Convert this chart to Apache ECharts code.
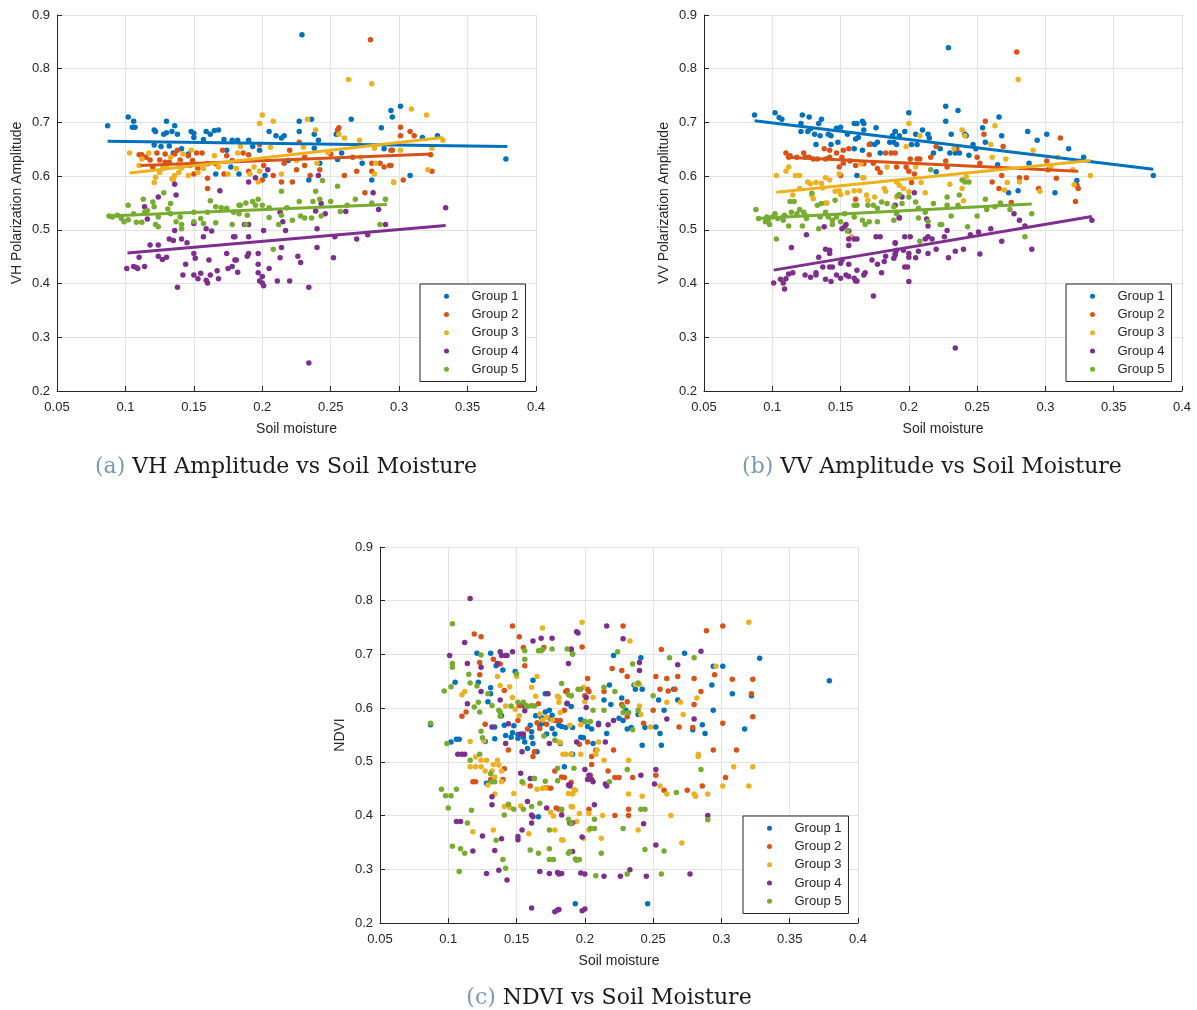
<!DOCTYPE html>
<html>
<head>
<meta charset="utf-8">
<script src="https://cdn.jsdelivr.net/npm/echarts@6/dist/echarts.min.js"></script>
<style>html,body{margin:0;padding:0;background:#fff}#chart{width:1197px;height:1010px}</style>
</head>
<body>
<div id="chart"></div>
<script>
const categories = ['Group 1', 'Group 2', 'Group 3', 'Group 4', 'Group 5'];
const xTicks = [0.05, 0.1, 0.15, 0.2, 0.25, 0.3, 0.35, 0.4];
const yTicks = [0.2, 0.3, 0.4, 0.5, 0.6, 0.7, 0.8, 0.9];
const captions = ['VH Amplitude vs Soil Moisture', 'VV Amplitude vs Soil Moisture', 'NDVI vs Soil Moisture'];
const yNames = ['VH Polarization Amplitude', 'VV Polarization Amplitude', 'NDVI'];

// ---- (a) VH amplitude ----
const vhG1 = [[0.087,0.694],[0.102,0.710],[0.106,0.702],[0.105,0.691],[0.107,0.691],[0.121,0.686],[0.122,0.683],[0.130,0.702],[0.136,0.694],[0.128,0.678],[0.130,0.681],[0.134,0.683],[0.138,0.678],[0.148,0.683],[0.150,0.680],[0.159,0.683],[0.162,0.678],[0.165,0.685],[0.168,0.686],[0.150,0.672],[0.157,0.668],[0.121,0.658],[0.126,0.655],[0.132,0.656],[0.135,0.643],[0.141,0.651],[0.146,0.641],[0.174,0.648],[0.172,0.668],[0.178,0.667],[0.166,0.604],[0.177,0.617],
[0.229,0.863],[0.182,0.667],[0.190,0.667],[0.193,0.655],[0.205,0.683],[0.210,0.675],[0.216,0.675],[0.214,0.671],[0.227,0.702],[0.227,0.683],[0.236,0.706],[0.238,0.678],[0.241,0.667],[0.238,0.652],[0.219,0.629],[0.265,0.706],[0.254,0.678],[0.255,0.631],[0.258,0.643],[0.273,0.624],[0.280,0.593],[0.234,0.593],[0.202,0.601],[0.183,0.604],[0.294,0.722],[0.295,0.710],[0.287,0.690],[0.289,0.651],[0.198,0.648],[0.242,0.624],
[0.301,0.730],[0.328,0.675],[0.378,0.632],[0.308,0.601],[0.317,0.672]];
const vhG2 = [[0.110,0.640],[0.112,0.640],[0.118,0.630],[0.123,0.643],[0.125,0.630],[0.129,0.626],[0.138,0.648],[0.146,0.638],[0.152,0.643],[0.156,0.643],[0.140,0.630],[0.149,0.629],[0.160,0.623],[0.166,0.623],[0.171,0.648],[0.174,0.638],[0.160,0.577],[0.153,0.614],[0.160,0.596],[0.178,0.629],[0.136,0.641],[0.147,0.620],[0.115,0.635],[0.129,0.641],[0.120,0.617],[0.150,0.604],[0.172,0.604],[0.132,0.626],
[0.279,0.854],[0.256,0.690],[0.255,0.686],[0.227,0.663],[0.198,0.659],[0.186,0.643],[0.190,0.640],[0.220,0.648],[0.231,0.635],[0.231,0.620],[0.225,0.612],[0.214,0.589],[0.222,0.589],[0.208,0.601],[0.200,0.593],[0.190,0.609],[0.201,0.620],[0.216,0.624],[0.235,0.601],[0.242,0.612],[0.250,0.641],[0.260,0.601],[0.266,0.635],[0.269,0.609],[0.275,0.569],[0.280,0.624],[0.280,0.609],[0.286,0.624],[0.289,0.617],[0.293,0.620],[0.294,0.648],
[0.301,0.691],[0.301,0.675],[0.308,0.683],[0.311,0.675],[0.323,0.640],[0.324,0.609],[0.303,0.593],[0.294,0.620],[0.295,0.648]];
const vhG3 = [[0.103,0.643],[0.110,0.620],[0.112,0.632],[0.117,0.643],[0.121,0.588],[0.133,0.635],[0.134,0.595],[0.135,0.593],[0.136,0.601],[0.139,0.607],[0.141,0.615],[0.146,0.601],[0.148,0.648],[0.153,0.607],[0.157,0.614],[0.165,0.638],[0.168,0.617],[0.175,0.604],[0.181,0.614],[0.182,0.643],[0.127,0.614],[0.125,0.607],[0.130,0.617],[0.139,0.623],[0.122,0.598],[0.142,0.641],
[0.200,0.714],[0.198,0.698],[0.208,0.702],[0.233,0.706],[0.239,0.686],[0.263,0.780],[0.280,0.772],[0.184,0.655],[0.191,0.604],[0.197,0.589],[0.198,0.609],[0.206,0.654],[0.214,0.604],[0.230,0.654],[0.240,0.624],[0.256,0.678],[0.260,0.671],[0.271,0.667],[0.272,0.635],[0.282,0.604],[0.283,0.624],[0.296,0.589],[0.282,0.652],[0.248,0.644],[0.225,0.629],[0.194,0.617],
[0.309,0.725],[0.320,0.714],[0.332,0.667],[0.324,0.652],[0.321,0.612],[0.296,0.588],[0.301,0.648]];
const vhG4 = [[0.101,0.428],[0.106,0.432],[0.108,0.430],[0.109,0.428],[0.114,0.432],[0.110,0.449],[0.118,0.472],[0.124,0.472],[0.124,0.451],[0.127,0.445],[0.130,0.449],[0.132,0.483],[0.135,0.480],[0.136,0.499],[0.137,0.565],[0.136,0.585],[0.124,0.561],[0.114,0.543],[0.116,0.520],[0.141,0.483],[0.145,0.476],[0.144,0.436],[0.150,0.456],[0.151,0.447],[0.142,0.416],[0.138,0.393],[0.150,0.416],[0.153,0.409],[0.155,0.419],[0.159,0.406],[0.160,0.401],[0.162,0.416],[0.168,0.409],[0.167,0.424],[0.161,0.444],[0.175,0.428],[0.178,0.432],[0.181,0.444],[0.182,0.421],[0.174,0.456],[0.179,0.487],[0.157,0.487],[0.159,0.502],[0.163,0.498],[0.150,0.512],[0.169,0.573],
[0.180,0.487],[0.180,0.444],[0.190,0.487],[0.189,0.451],[0.190,0.456],[0.197,0.456],[0.197,0.436],[0.197,0.420],[0.200,0.413],[0.198,0.405],[0.200,0.401],[0.201,0.396],[0.205,0.428],[0.211,0.405],[0.220,0.405],[0.201,0.499],[0.190,0.589],[0.195,0.597],[0.204,0.612],[0.214,0.467],[0.213,0.448],[0.215,0.515],[0.217,0.499],[0.226,0.451],[0.228,0.439],[0.234,0.393],[0.234,0.252],[0.240,0.502],[0.240,0.467],[0.241,0.601],[0.243,0.549],[0.246,0.530],[0.239,0.535],[0.252,0.448],[0.253,0.487],[0.261,0.534],[0.269,0.483],[0.277,0.491],[0.281,0.569],[0.285,0.538],[0.290,0.510],[0.190,0.510],[0.187,0.510],[0.213,0.533],
[0.334,0.541]];
const vhG5 = [[0.088,0.526],[0.0905,0.524],[0.094,0.527],[0.097,0.521],[0.099,0.515],[0.102,0.519],[0.102,0.546],[0.106,0.530],[0.108,0.514],[0.112,0.514],[0.113,0.557],[0.114,0.533],[0.116,0.536],[0.120,0.552],[0.121,0.543],[0.124,0.524],[0.122,0.510],[0.124,0.506],[0.128,0.569],[0.131,0.539],[0.133,0.549],[0.133,0.530],[0.137,0.515],[0.141,0.510],[0.141,0.502],[0.140,0.524],[0.150,0.515],[0.150,0.533],[0.155,0.521],[0.157,0.512],[0.160,0.533],[0.162,0.554],[0.166,0.513],[0.166,0.543],[0.170,0.541],[0.174,0.540],[0.178,0.510],[0.179,0.533],[0.183,0.546],
[0.184,0.546],[0.188,0.550],[0.193,0.553],[0.197,0.557],[0.195,0.546],[0.189,0.527],[0.188,0.510],[0.183,0.530],[0.200,0.546],[0.205,0.541],[0.205,0.523],[0.212,0.510],[0.214,0.527],[0.214,0.572],[0.218,0.541],[0.222,0.518],[0.227,0.553],[0.228,0.526],[0.231,0.522],[0.237,0.553],[0.236,0.522],[0.239,0.572],[0.242,0.557],[0.244,0.592],[0.208,0.464],[0.250,0.553],[0.255,0.581],[0.257,0.534],[0.262,0.546],[0.268,0.557],[0.280,0.550],[0.286,0.510],[0.290,0.557],[0.243,0.526]];
const vhFit1 = [[0.087,0.665],[0.379,0.655]];
const vhFit2 = [[0.111,0.620],[0.324,0.641]];
const vhFit3 = [[0.103,0.606],[0.332,0.672]];
const vhFit4 = [[0.1015,0.457],[0.334,0.508]];
const vhFit5 = [[0.087,0.526],[0.291,0.547]];

// ---- (b) VV amplitude ----
const vvG1 = [[0.087,0.714],[0.102,0.718],[0.105,0.709],[0.107,0.706],[0.122,0.714],[0.127,0.710],[0.136,0.706],[0.134,0.698],[0.121,0.698],[0.121,0.683],[0.128,0.688],[0.126,0.683],[0.131,0.678],[0.135,0.675],[0.141,0.678],[0.143,0.675],[0.147,0.689],[0.150,0.691],[0.160,0.698],[0.162,0.698],[0.166,0.702],[0.167,0.698],[0.167,0.686],[0.176,0.690],[0.155,0.678],[0.161,0.669],[0.163,0.672],[0.132,0.659],[0.143,0.659],[0.148,0.663],[0.160,0.651],[0.166,0.648],[0.172,0.660],[0.175,0.659],[0.177,0.663],[0.179,0.643],[0.186,0.663],[0.189,0.663],[0.190,0.683],[0.188,0.675],[0.162,0.601],[0.191,0.659],
[0.229,0.839],[0.190,0.683],[0.197,0.683],[0.193,0.675],[0.200,0.718],[0.205,0.678],[0.210,0.686],[0.214,0.678],[0.215,0.671],[0.202,0.659],[0.206,0.659],[0.227,0.730],[0.227,0.702],[0.236,0.722],[0.231,0.678],[0.241,0.678],[0.242,0.675],[0.247,0.659],[0.256,0.663],[0.254,0.690],[0.266,0.710],[0.268,0.675],[0.237,0.643],[0.244,0.639],[0.249,0.651],[0.234,0.643],[0.230,0.643],[0.223,0.651],[0.218,0.643],[0.220,0.608],[0.287,0.683],[0.294,0.667],[0.301,0.678],[0.288,0.624],[0.280,0.573],[0.273,0.569],[0.265,0.621],[0.307,0.569],
[0.317,0.651],[0.328,0.635],[0.323,0.592],[0.379,0.601]];
const vvG2 = [[0.110,0.643],[0.112,0.635],[0.113,0.638],[0.118,0.635],[0.123,0.643],[0.124,0.635],[0.127,0.635],[0.130,0.632],[0.133,0.632],[0.139,0.632],[0.138,0.651],[0.142,0.648],[0.147,0.643],[0.152,0.648],[0.156,0.651],[0.151,0.635],[0.152,0.624],[0.149,0.617],[0.157,0.628],[0.161,0.620],[0.161,0.557],[0.171,0.640],[0.171,0.659],[0.167,0.623],[0.174,0.624],[0.177,0.614],[0.183,0.643],[0.187,0.643],[0.190,0.643],[0.191,0.617],[0.179,0.607],[0.150,0.601],[0.142,0.635],
[0.201,0.632],[0.206,0.632],[0.208,0.632],[0.198,0.617],[0.200,0.609],[0.204,0.604],[0.202,0.588],[0.216,0.635],[0.220,0.655],[0.227,0.628],[0.228,0.617],[0.235,0.651],[0.250,0.635],[0.252,0.624],[0.256,0.702],[0.255,0.678],[0.261,0.589],[0.269,0.655],[0.268,0.601],[0.266,0.577],[0.279,0.831],[0.281,0.597],[0.286,0.597],[0.275,0.551],[0.295,0.577],[0.301,0.628],[0.302,0.612],
[0.311,0.671],[0.308,0.596],[0.323,0.583],[0.324,0.577],[0.322,0.553]];
const vvG3 = [[0.103,0.601],[0.110,0.609],[0.112,0.617],[0.117,0.601],[0.120,0.601],[0.115,0.565],[0.120,0.577],[0.126,0.589],[0.128,0.586],[0.129,0.565],[0.132,0.588],[0.136,0.587],[0.130,0.558],[0.139,0.597],[0.142,0.593],[0.139,0.550],[0.140,0.550],[0.146,0.572],[0.149,0.573],[0.155,0.569],[0.150,0.566],[0.160,0.573],[0.164,0.573],[0.166,0.597],[0.167,0.597],[0.169,0.565],[0.170,0.555],[0.175,0.561],[0.182,0.577],[0.183,0.572],[0.184,0.617],[0.191,0.561],[0.165,0.623],[0.149,0.604],[0.158,0.487],[0.137,0.578],
[0.200,0.698],[0.198,0.655],[0.208,0.675],[0.191,0.589],[0.193,0.583],[0.196,0.577],[0.200,0.571],[0.205,0.617],[0.209,0.588],[0.212,0.569],[0.230,0.585],[0.239,0.577],[0.239,0.686],[0.241,0.675],[0.233,0.651],[0.240,0.554],[0.242,0.599],[0.260,0.659],[0.261,0.635],[0.263,0.694],[0.271,0.632],[0.272,0.588],[0.270,0.574],[0.280,0.780],[0.281,0.589],[0.291,0.648],[0.296,0.572],[0.304,0.617],
[0.309,0.635],[0.320,0.612],[0.321,0.584],[0.333,0.601]];
const vvG4 = [[0.101,0.401],[0.106,0.408],[0.108,0.401],[0.109,0.390],[0.110,0.409],[0.112,0.418],[0.115,0.420],[0.114,0.467],[0.125,0.491],[0.124,0.416],[0.128,0.412],[0.132,0.416],[0.132,0.420],[0.134,0.449],[0.137,0.431],[0.139,0.464],[0.142,0.462],[0.142,0.456],[0.139,0.408],[0.143,0.404],[0.142,0.431],[0.144,0.431],[0.147,0.416],[0.150,0.438],[0.151,0.444],[0.150,0.410],[0.154,0.416],[0.156,0.413],[0.160,0.410],[0.161,0.405],[0.162,0.405],[0.162,0.425],[0.156,0.436],[0.151,0.502],[0.154,0.510],[0.156,0.498],[0.156,0.483],[0.160,0.483],[0.162,0.483],[0.156,0.471],[0.167,0.416],[0.168,0.420],[0.173,0.444],[0.174,0.377],[0.177,0.436],[0.176,0.487],[0.179,0.487],[0.180,0.420],[0.182,0.441],[0.183,0.451],[0.189,0.447],[0.190,0.456],[0.190,0.476],[0.193,0.523],[0.138,0.506],[0.153,0.506],
[0.190,0.546],[0.195,0.561],[0.204,0.569],[0.193,0.522],[0.190,0.475],[0.191,0.462],[0.190,0.453],[0.197,0.487],[0.201,0.487],[0.196,0.462],[0.200,0.456],[0.200,0.449],[0.205,0.448],[0.197,0.431],[0.199,0.431],[0.200,0.404],[0.207,0.460],[0.212,0.483],[0.214,0.487],[0.217,0.483],[0.214,0.456],[0.214,0.507],[0.220,0.464],[0.226,0.487],[0.228,0.499],[0.229,0.448],[0.234,0.460],[0.240,0.464],[0.245,0.491],[0.251,0.496],[0.252,0.455],[0.260,0.502],[0.268,0.479],[0.277,0.530],[0.281,0.518],[0.285,0.507],[0.290,0.464],[0.234,0.280],[0.213,0.520],
[0.334,0.518]];
const vvG5 = [[0.088,0.538],[0.090,0.521],[0.096,0.524],[0.097,0.518],[0.100,0.524],[0.102,0.530],[0.104,0.521],[0.108,0.524],[0.108,0.518],[0.109,0.527],[0.095,0.515],[0.098,0.510],[0.103,0.483],[0.112,0.507],[0.113,0.553],[0.116,0.553],[0.114,0.533],[0.118,0.530],[0.120,0.538],[0.123,0.533],[0.124,0.527],[0.125,0.521],[0.122,0.507],[0.129,0.568],[0.133,0.546],[0.136,0.549],[0.134,0.502],[0.135,0.524],[0.139,0.533],[0.141,0.524],[0.144,0.518],[0.147,0.524],[0.144,0.510],[0.150,0.515],[0.155,0.498],[0.153,0.530],[0.160,0.546],[0.162,0.546],[0.160,0.524],[0.166,0.518],[0.168,0.510],[0.171,0.515],[0.170,0.546],[0.174,0.546],[0.177,0.540],[0.177,0.515],[0.180,0.552],[0.184,0.549],[0.189,0.518],[0.191,0.530],[0.193,0.566],[0.189,0.543],[0.146,0.555],
[0.192,0.564],[0.195,0.549],[0.191,0.533],[0.200,0.561],[0.205,0.552],[0.207,0.522],[0.207,0.540],[0.212,0.533],[0.208,0.479],[0.214,0.516],[0.218,0.549],[0.223,0.510],[0.224,0.510],[0.228,0.546],[0.228,0.561],[0.231,0.526],[0.236,0.546],[0.237,0.565],[0.239,0.593],[0.241,0.589],[0.244,0.589],[0.243,0.506],[0.250,0.526],[0.256,0.557],[0.257,0.538],[0.263,0.543],[0.267,0.550],[0.274,0.538],[0.285,0.487],[0.290,0.530],[0.216,0.612]];
const vvFit1 = [[0.087,0.703],[0.379,0.613]];
const vvFit2 = [[0.110,0.635],[0.324,0.609]];
const vvFit3 = [[0.103,0.570],[0.333,0.629]];
const vvFit4 = [[0.101,0.425],[0.334,0.525]];
const vvFit5 = [[0.088,0.521],[0.290,0.548]];

// ---- (c) NDVI ----
const ndviG1 = [[0.087,0.569],[0.102,0.537],[0.106,0.542],[0.108,0.542],[0.105,0.648],[0.121,0.702],[0.122,0.648],[0.127,0.538],[0.128,0.460],[0.129,0.612],[0.131,0.627],[0.131,0.702],[0.131,0.638],[0.134,0.565],[0.134,0.543],[0.135,0.679],[0.140,0.671],[0.139,0.586],[0.141,0.568],[0.142,0.549],[0.146,0.546],[0.147,0.554],[0.148,0.567],[0.149,0.668],[0.151,0.544],[0.151,0.551],[0.155,0.546],[0.156,0.537],[0.158,0.525],[0.160,0.568],[0.161,0.546],[0.161,0.556],[0.162,0.652],[0.162,0.534],[0.164,0.586],[0.165,0.519],[0.166,0.398],[0.167,0.568],[0.168,0.583],[0.169,0.572],[0.171,0.627],[0.171,0.593],[0.172,0.552],[0.174,0.596],[0.175,0.580],[0.176,0.562],[0.176,0.587],[0.178,0.552],[0.179,0.577],[0.181,0.568],[0.182,0.534],[0.183,0.566],[0.185,0.491],[0.186,0.564],[0.187,0.608],[0.190,0.603],[0.190,0.514],
[0.191,0.564],[0.197,0.579],[0.197,0.546],[0.200,0.575],[0.202,0.566],[0.205,0.561],[0.206,0.534],[0.199,0.545],[0.191,0.514],[0.193,0.236],[0.216,0.553],[0.210,0.572],[0.214,0.615],[0.218,0.643],[0.219,0.607],[0.221,0.698],[0.225,0.581],[0.227,0.619],[0.228,0.577],[0.230,0.596],[0.231,0.561],[0.234,0.564],[0.236,0.643],[0.237,0.635],[0.239,0.588],[0.241,0.694],[0.242,0.635],[0.242,0.531],[0.244,0.564],[0.246,0.236],[0.252,0.565],[0.255,0.553],[0.256,0.531],[0.254,0.615],[0.258,0.596],[0.265,0.635],[0.268,0.615],[0.273,0.702],[0.279,0.560],[0.286,0.569],[0.288,0.553],
[0.293,0.643],[0.294,0.596],[0.294,0.678],[0.301,0.678],[0.308,0.627],[0.317,0.561],[0.322,0.623],[0.328,0.693],[0.379,0.651]];
const ndviG2 = [[0.119,0.738],[0.124,0.733],[0.123,0.685],[0.123,0.662],[0.113,0.593],[0.110,0.585],[0.118,0.463],[0.120,0.463],[0.127,0.570],[0.131,0.467],[0.133,0.691],[0.136,0.683],[0.138,0.682],[0.140,0.467],[0.141,0.487],[0.144,0.522],[0.147,0.753],[0.152,0.733],[0.152,0.605],[0.153,0.605],[0.151,0.577],[0.155,0.713],[0.156,0.679],[0.158,0.561],[0.162,0.510],[0.163,0.519],[0.160,0.455],[0.165,0.573],[0.166,0.608],[0.167,0.562],[0.170,0.713],[0.172,0.570],[0.172,0.452],[0.175,0.451],[0.178,0.577],[0.179,0.414],[0.178,0.483],[0.182,0.577],[0.185,0.596],[0.187,0.633],[0.190,0.623],[0.181,0.412],[0.183,0.472],[0.141,0.633],
[0.198,0.714],[0.228,0.753],[0.202,0.655],[0.202,0.635],[0.203,0.631],[0.186,0.631],[0.200,0.623],[0.214,0.631],[0.220,0.674],[0.227,0.670],[0.231,0.659],[0.227,0.607],[0.231,0.612],[0.231,0.584],[0.243,0.572],[0.221,0.522],[0.205,0.510],[0.208,0.522],[0.202,0.537],[0.196,0.533],[0.205,0.495],[0.204,0.475],[0.217,0.483],[0.222,0.471],[0.225,0.471],[0.235,0.471],[0.232,0.412],[0.232,0.400],[0.222,0.400],[0.203,0.412],[0.190,0.462],[0.185,0.471],[0.252,0.659],[0.256,0.709],[0.255,0.635],[0.260,0.655],[0.261,0.632],[0.266,0.635],[0.268,0.659],[0.250,0.596],[0.252,0.475],[0.258,0.447],[0.269,0.565],[0.275,0.447],[0.280,0.655],[0.280,0.607],[0.279,0.564],[0.285,0.631],[0.286,0.455],
[0.289,0.744],[0.301,0.753],[0.295,0.662],[0.308,0.654],[0.323,0.654],[0.322,0.627],[0.323,0.584],[0.301,0.572],[0.294,0.522],[0.311,0.522],[0.303,0.471]];
const ndviG3 = [[0.110,0.625],[0.112,0.631],[0.116,0.538],[0.116,0.491],[0.120,0.491],[0.120,0.509],[0.124,0.503],[0.124,0.491],[0.118,0.370],[0.126,0.539],[0.128,0.503],[0.129,0.457],[0.127,0.483],[0.132,0.483],[0.133,0.495],[0.136,0.503],[0.137,0.494],[0.134,0.472],[0.134,0.440],[0.133,0.373],[0.139,0.483],[0.139,0.463],[0.136,0.659],[0.138,0.642],[0.141,0.417],[0.142,0.604],[0.145,0.415],[0.145,0.640],[0.147,0.620],[0.148,0.441],[0.149,0.598],[0.150,0.659],[0.152,0.586],[0.153,0.418],[0.155,0.460],[0.159,0.366],[0.161,0.639],[0.164,0.622],[0.167,0.589],[0.169,0.578],[0.169,0.451],[0.171,0.452],[0.165,0.659],[0.169,0.749],[0.165,0.449],[0.172,0.583],[0.175,0.406],[0.176,0.578],[0.177,0.399],[0.178,0.373],[0.180,0.622],[0.181,0.611],[0.183,0.409],[0.183,0.355],[0.182,0.536],[0.184,0.514],[0.190,0.417],[0.189,0.568],[0.188,0.441],[0.192,0.448],
[0.198,0.760],[0.233,0.725],[0.181,0.620],[0.182,0.592],[0.181,0.537],[0.186,0.514],[0.197,0.514],[0.190,0.514],[0.197,0.569],[0.200,0.612],[0.199,0.639],[0.206,0.620],[0.208,0.514],[0.209,0.522],[0.210,0.537],[0.214,0.503],[0.193,0.447],[0.191,0.440],[0.191,0.416],[0.196,0.404],[0.194,0.389],[0.203,0.404],[0.203,0.373],[0.199,0.358],[0.184,0.354],[0.213,0.400],[0.212,0.358],[0.232,0.503],[0.232,0.440],[0.237,0.644],[0.240,0.644],[0.240,0.604],[0.241,0.588],[0.242,0.436],[0.239,0.373],[0.248,0.565],[0.255,0.455],[0.260,0.440],[0.260,0.611],[0.263,0.400],[0.270,0.611],[0.272,0.588],[0.271,0.349],[0.282,0.619],[0.283,0.514],[0.283,0.510],[0.280,0.440],[0.281,0.436],[0.290,0.440],
[0.320,0.760],[0.296,0.678],[0.309,0.491],[0.323,0.491],[0.301,0.455],[0.320,0.455]];
const ndviG4 = [[0.116,0.804],[0.101,0.698],[0.112,0.722],[0.114,0.683],[0.114,0.608],[0.107,0.514],[0.110,0.514],[0.112,0.514],[0.106,0.389],[0.109,0.389],[0.118,0.334],[0.125,0.362],[0.124,0.676],[0.124,0.631],[0.128,0.292],[0.132,0.435],[0.132,0.420],[0.132,0.565],[0.134,0.335],[0.136,0.683],[0.138,0.705],[0.139,0.698],[0.138,0.615],[0.139,0.357],[0.137,0.298],[0.142,0.698],[0.143,0.698],[0.142,0.534],[0.144,0.571],[0.143,0.280],[0.147,0.705],[0.151,0.355],[0.151,0.361],[0.153,0.552],[0.154,0.519],[0.154,0.373],[0.155,0.552],[0.156,0.604],[0.158,0.426],[0.160,0.469],[0.163,0.469],[0.161,0.386],[0.161,0.228],[0.161,0.401],[0.162,0.398],[0.162,0.725],[0.168,0.730],[0.167,0.296],[0.172,0.414],[0.173,0.627],[0.174,0.534],[0.174,0.292],[0.176,0.730],[0.180,0.294],[0.181,0.291],[0.178,0.221],[0.180,0.224],[0.181,0.225],[0.187,0.609],[0.188,0.683],[0.188,0.457],[0.189,0.458],[0.189,0.386],[0.191,0.386],[0.190,0.710],[0.194,0.742],[0.183,0.401],[0.156,0.595],[0.153,0.479],
[0.195,0.740],[0.190,0.709],[0.191,0.701],[0.201,0.620],[0.201,0.601],[0.210,0.569],[0.217,0.569],[0.215,0.537],[0.194,0.537],[0.216,0.753],[0.228,0.729],[0.240,0.685],[0.240,0.670],[0.221,0.577],[0.200,0.486],[0.203,0.475],[0.205,0.467],[0.206,0.463],[0.202,0.467],[0.215,0.459],[0.216,0.455],[0.189,0.455],[0.207,0.420],[0.198,0.360],[0.191,0.333],[0.183,0.292],[0.197,0.293],[0.200,0.291],[0.214,0.287],[0.226,0.287],[0.233,0.299],[0.245,0.287],[0.198,0.223],[0.200,0.226],[0.241,0.475],[0.243,0.385],[0.252,0.486],[0.251,0.459],[0.252,0.345],[0.260,0.580],[0.268,0.681],[0.280,0.580],[0.285,0.706],[0.277,0.291],[0.290,0.400]];
const ndviG5 = [[0.087,0.572],[0.095,0.449],[0.098,0.437],[0.097,0.632],[0.099,0.534],[0.100,0.414],[0.102,0.437],[0.103,0.343],[0.103,0.676],[0.103,0.683],[0.103,0.757],[0.102,0.640],[0.106,0.449],[0.108,0.296],[0.109,0.338],[0.112,0.330],[0.114,0.386],[0.115,0.663],[0.116,0.503],[0.116,0.647],[0.117,0.410],[0.119,0.602],[0.121,0.641],[0.122,0.611],[0.123,0.593],[0.124,0.699],[0.123,0.514],[0.124,0.557],[0.125,0.545],[0.129,0.627],[0.131,0.478],[0.132,0.463],[0.134,0.463],[0.132,0.605],[0.135,0.354],[0.137,0.596],[0.138,0.593],[0.138,0.585],[0.140,0.318],[0.141,0.401],[0.142,0.302],[0.144,0.421],[0.146,0.604],[0.148,0.412],[0.150,0.664],[0.151,0.611],[0.154,0.463],[0.155,0.412],[0.156,0.707],[0.156,0.691],[0.155,0.611],[0.157,0.605],[0.158,0.603],[0.160,0.336],[0.163,0.469],[0.161,0.417],[0.161,0.605],[0.163,0.604],[0.166,0.330],[0.166,0.707],[0.168,0.707],[0.169,0.709],[0.167,0.423],[0.170,0.548],[0.171,0.464],[0.174,0.338],[0.174,0.318],[0.174,0.373],[0.176,0.710],[0.177,0.318],[0.178,0.540],[0.180,0.488],[0.180,0.465],[0.183,0.646],[0.183,0.412],[0.187,0.710],[0.188,0.330],[0.189,0.333],[0.188,0.393],[0.188,0.625],[0.190,0.623],[0.192,0.488],[0.193,0.319],
[0.191,0.701],[0.195,0.635],[0.197,0.635],[0.206,0.596],[0.200,0.575],[0.204,0.575],[0.214,0.639],[0.214,0.596],[0.222,0.631],[0.224,0.705],[0.228,0.603],[0.228,0.592],[0.232,0.592],[0.235,0.560],[0.235,0.682],[0.239,0.647],[0.239,0.596],[0.231,0.486],[0.218,0.463],[0.190,0.385],[0.207,0.393],[0.204,0.376],[0.207,0.376],[0.228,0.376],[0.241,0.412],[0.244,0.412],[0.244,0.337],[0.212,0.330],[0.194,0.317],[0.196,0.318],[0.208,0.288],[0.231,0.291],[0.256,0.291],[0.258,0.334],[0.250,0.623],[0.262,0.694],[0.267,0.443],[0.280,0.694],[0.285,0.486],[0.290,0.392]];

const colors = ['#0072BD', '#D95319', '#EDB120', '#7E2F8E', '#77AC30'];
const scatterSets = [
  [vhG1, vhG2, vhG3, vhG4, vhG5],
  [vvG1, vvG2, vvG3, vvG4, vvG5],
  [ndviG1, ndviG2, ndviG3, ndviG4, ndviG5]
];
const fitSets = [
  [vhFit1, vhFit2, vhFit3, vhFit4, vhFit5],
  [vvFit1, vvFit2, vvFit3, vvFit4, vvFit5],
  null
];

const SANS = 'Liberation Sans, Arial, Helvetica, sans-serif';
const SERIF = 'DejaVu Serif, Liberation Serif, serif';
const AX = '#262626';
const GRIDC = '#e3e3e3';

const grids = [
  {left: 57, top: 15, width: 479, height: 376},
  {left: 704, top: 15, width: 478, height: 376},
  {left: 380, top: 547, width: 478, height: 376}
];
const legendPos = [[420, 284], [1066, 284], [743, 816]];
const captionPos = [[286, 467, '(a)'], [932, 467, '(b)'], [609, 998, '(c)']];

const xAxes = grids.map((g, i) => ({
  type: 'value', gridIndex: i, min: xTicks[0], max: xTicks[xTicks.length - 1], interval: 0.05,
  name: 'Soil moisture', nameLocation: 'middle', nameGap: 31,
  nameTextStyle: {fontFamily: SANS, fontSize: 14, color: AX},
  axisLine: {show: true, onZero: false, lineStyle: {color: AX, width: 1}},
  axisTick: {show: true, inside: true, length: 5, lineStyle: {color: AX}},
  axisLabel: {fontFamily: SANS, fontSize: 13, color: AX, margin: 10},
  splitLine: {show: true, lineStyle: {color: GRIDC, width: 1}}
}));
const yAxes = grids.map((g, i) => ({
  type: 'value', gridIndex: i, min: yTicks[0], max: yTicks[yTicks.length - 1], interval: 0.1,
  name: yNames[i], nameLocation: 'middle', nameGap: 33,
  nameTextStyle: {fontFamily: SANS, fontSize: 14, color: AX},
  axisLine: {show: true, onZero: false, lineStyle: {color: AX, width: 1}},
  axisTick: {show: true, inside: true, length: 5, lineStyle: {color: AX}},
  axisLabel: {fontFamily: SANS, fontSize: 13, color: AX, margin: 7},
  splitLine: {show: true, lineStyle: {color: GRIDC, width: 1}}
}));

const series = [];
scatterSets.forEach((set, p) => {
  set.forEach((pts, g) => {
    series.push({
      type: 'scatter', name: categories[g], xAxisIndex: p, yAxisIndex: p,
      data: pts, symbol: 'circle', symbolSize: 5.5, z: 2,
      itemStyle: {color: colors[g], opacity: 1},
      emphasis: {disabled: true}, silent: true
    });
  });
});
fitSets.forEach((set, p) => {
  if (!set) return;
  set.forEach((pts, g) => {
    series.push({
      type: 'line', name: categories[g] + ' fit', xAxisIndex: p, yAxisIndex: p,
      data: pts, showSymbol: false, symbol: 'none', z: 3,
      lineStyle: {color: colors[g], width: 3},
      emphasis: {disabled: true}, silent: true
    });
  });
});

const legends = legendPos.map(([l, t]) => ({
  data: categories.map(c => ({name: c, icon: 'circle'})),
  orient: 'vertical', left: l, top: t,
  itemWidth: 40, itemHeight: 5, itemGap: 0,
  padding: [3, 7, 3, 24],
  backgroundColor: '#fff', borderColor: AX, borderWidth: 1,
  selectedMode: false, z: 10,
  textStyle: {fontFamily: SANS, fontSize: 13, color: AX, lineHeight: 18.3}
}));

const graphics = captionPos.map(([x, y, tag], i) => ({
  type: 'text', x: x, y: y, z: 10,
  style: {
    text: '{t|' + tag + '} ' + captions[i],
    font: '22px ' + SERIF, fill: '#1a1a1a',
    align: 'center', verticalAlign: 'middle',
    rich: {t: {fill: '#7b99b6', font: '22px ' + SERIF}}
  }
}));

const chart = echarts.init(document.getElementById('chart'), null, {renderer: 'canvas'});
chart.setOption({
  animation: false,
  backgroundColor: '#fff',
  color: colors,
  grid: grids,
  xAxis: xAxes,
  yAxis: yAxes,
  legend: legends,
  graphic: graphics,
  series: series
});
</script>
</body>
</html>
